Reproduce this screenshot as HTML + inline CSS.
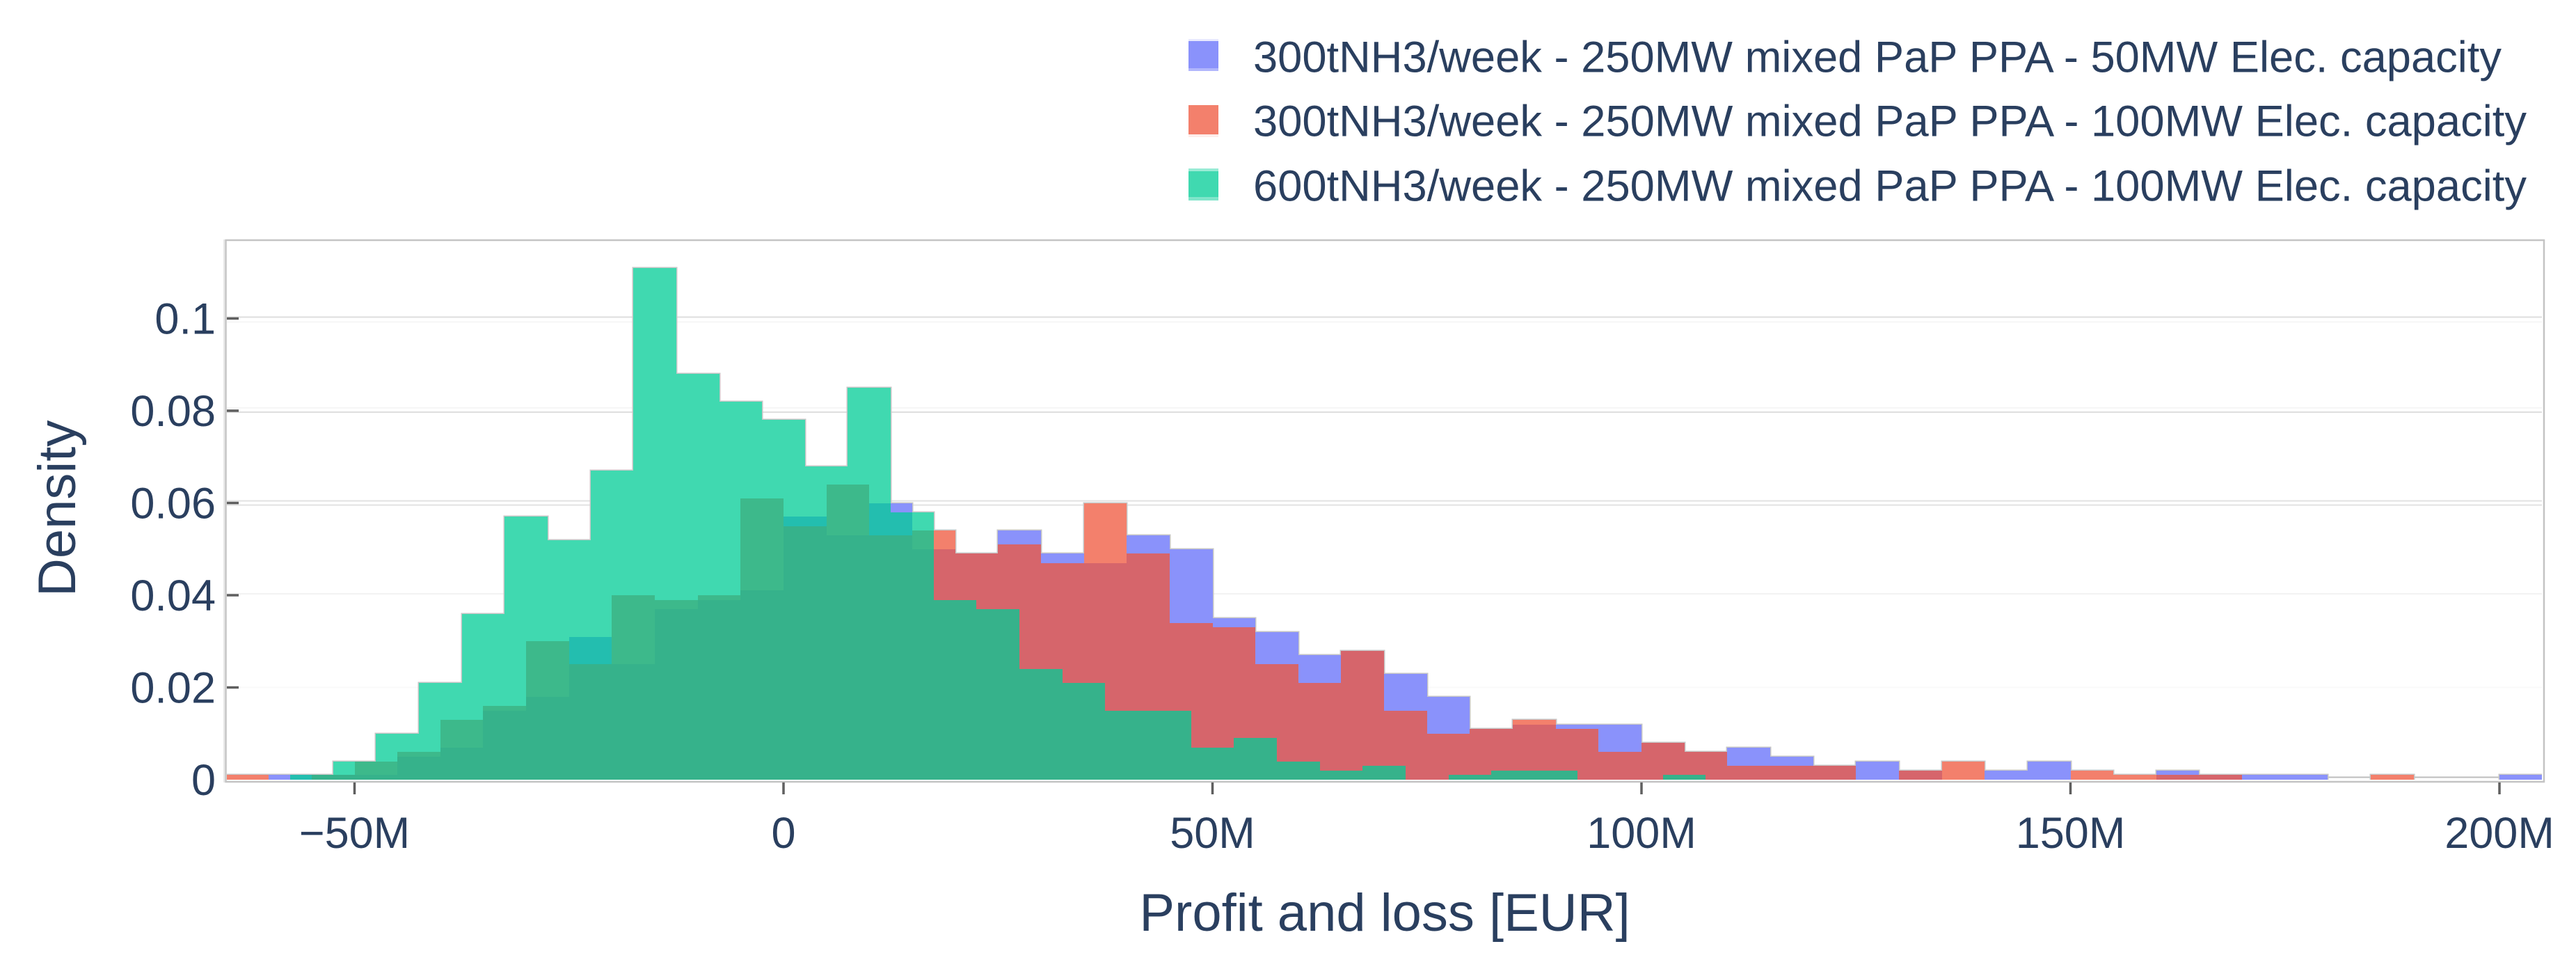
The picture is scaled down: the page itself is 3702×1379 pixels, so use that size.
<!DOCTYPE html>
<html lang="en">
<head>
<meta charset="utf-8">
<title>Profit and loss density histogram</title>
<style>
html,body{margin:0;padding:0;background:#fff;width:3702px;height:1379px;overflow:hidden}
svg{display:block}
text{font-family:"Liberation Sans",Arial,sans-serif;fill:#2a3f5f}
</style>
</head>
<body>
<svg id="chart" xmlns="http://www.w3.org/2000/svg" width="3702" height="1379" viewBox="0 0 3702 1379">
  <defs>
    <clipPath id="plot-clip"><rect x="326" y="346" width="3327" height="776"/></clipPath>
    <clipPath id="outline-clip"><rect x="326" y="346" width="3327" height="774"/></clipPath>
  </defs>
  <rect x="324.5" y="345" width="3331.5" height="778" fill="#fff" stroke="#c4c4c4" stroke-width="2.5"/>
  <line x1="322" x2="322" y1="344" y2="1124" stroke="#e8e8e8" stroke-width="2"/>
  <g id="grid"></g>
  <line x1="326" x2="3653" y1="1116.5" y2="1116.5" stroke="#bdbdbd" stroke-width="2"/>
  <g id="bars" clip-path="url(#plot-clip)" shape-rendering="crispEdges">
    <path id="bar-outline" clip-path="url(#outline-clip)" fill="none" stroke="#c6c6c6" stroke-width="3"/>
    <path id="bar-underlay" fill="#fff" stroke="none"/>
  </g>
  <g id="axis-ticks"></g>
  <text transform="translate(108,857) rotate(-90)" font-size="76">Density</text>
  <text x="1990" y="1337" font-size="76" text-anchor="middle">Profit and loss [EUR]</text>
  <g>
    <g fill="#636efa" shape-rendering="crispEdges">
      <rect x="1708" y="56" width="43" height="3" opacity="0.15"/>
      <rect x="1708" y="59" width="43" height="39" opacity="0.75"/>
      <rect x="1708" y="98" width="43" height="4" opacity="0.5"/>
    </g>
    <text x="1801" y="103.5" font-size="63" textLength="1794" lengthAdjust="spacingAndGlyphs">300tNH3/week - 250MW mixed PaP PPA - 50MW Elec. capacity</text>
    <g fill="#ef553b" shape-rendering="crispEdges">
      <rect x="1708" y="151" width="43" height="42" opacity="0.75"/>
      <rect x="1708" y="193" width="43" height="4" opacity="0.1"/>
    </g>
    <text x="1801" y="195.5" font-size="63" textLength="1830" lengthAdjust="spacingAndGlyphs">300tNH3/week - 250MW mixed PaP PPA - 100MW Elec. capacity</text>
    <g fill="#00cc96" shape-rendering="crispEdges">
      <rect x="1708" y="242" width="43" height="4" opacity="0.4"/>
      <rect x="1708" y="246" width="43" height="37" opacity="0.75"/>
      <rect x="1708" y="283" width="43" height="5" opacity="0.5"/>
    </g>
    <text x="1801" y="288.5" font-size="63" textLength="1830" lengthAdjust="spacingAndGlyphs">600tNH3/week - 250MW mixed PaP PPA - 100MW Elec. capacity</text>
  </g>
</svg>
<script>
const xTicks = [-50, 0, 50, 100, 150, 200];
const xTickLabels = ['\u221250M', '0', '50M', '100M', '150M', '200M'];
const yTicks = [0, 0.02, 0.04, 0.06, 0.08, 0.1];
const yTickLabels = ['0', '0.02', '0.04', '0.06', '0.08', '0.1'];
const binWidth = 5;
const blueStart = -60;
const blueValues = [0.001,0.001,0.001,0.005,0.007,0.015,0.018,0.031,0.025,0.037,0.039,0.041,0.057,0.053,0.060,0.050,0.049,0.054,0.049,0.047,0.053,0.050,0.035,0.032,0.027,0.028,0.023,0.018,0.011,0.012,0.012,0.012,0.008,0.006,0.007,0.005,0.003,0.004,0.002,0,0.002,0.004,0,0,0.002,0.001,0.001,0.001,0,0,0,0,0.001];
const redStart = -65;
const redValues = [0.001,0,0.001,0.004,0.006,0.013,0.016,0.030,0.025,0.040,0.039,0.040,0.061,0.055,0.064,0.053,0.054,0.049,0.051,0.047,0.060,0.049,0.034,0.033,0.025,0.021,0.028,0.015,0.010,0.011,0.013,0.011,0.006,0.008,0.006,0.003,0.003,0.003,0,0.002,0.004,0,0,0.002,0.001,0.001,0.001,0,0,0,0.001];
const greenStart = -57.5;
const greenValues = [0.001,0.004,0.010,0.021,0.036,0.057,0.052,0.067,0.111,0.088,0.082,0.078,0.068,0.085,0.058,0.039,0.037,0.024,0.021,0.015,0.015,0.007,0.009,0.004,0.002,0.003,0,0.001,0.002,0.002,0,0,0.001];

const NS = 'http://www.w3.org/2000/svg';
function xScale(v) { return 1126 + 12.33 * v; }
function yScale(v) { return 1120 - 6625 * v; }

const barsGroup = document.getElementById('bars');
let envelope = '';
function drawSeries(start, values, color, seriesName) {
  values.forEach(function (value, i) {
    if (value <= 0) return;
    const left = Math.round(xScale(start + i * binWidth));
    const right = Math.round(xScale(start + (i + 1) * binWidth));
    const top = Math.round(yScale(value));
    const bottom = Math.round(yScale(0));
    envelope += 'M' + left + ' ' + bottom + 'V' + top + 'H' + right + 'V' + bottom + 'Z';
    const rect = document.createElementNS(NS, 'rect');
    rect.setAttribute('x', left);
    rect.setAttribute('y', top);
    rect.setAttribute('width', right - left);
    rect.setAttribute('height', bottom - top);
    rect.setAttribute('fill', color);
    rect.setAttribute('opacity', '0.75');
    
    
    barsGroup.appendChild(rect);
  });
}
drawSeries(blueStart, blueValues, '#636efa', 'blue-series');
drawSeries(redStart, redValues, '#ef553b', 'red-series');
drawSeries(greenStart, greenValues, '#00cc96', 'green-series');
document.getElementById('bar-outline').setAttribute('d', envelope);
document.getElementById('bar-underlay').setAttribute('d', envelope);

const gridGroup = document.getElementById('grid');
function addGridLine(tick, shift, color) {
  const y = yScale(tick) + shift;
  const line = document.createElementNS(NS, 'line');
  line.setAttribute('x1', 326);
  line.setAttribute('x2', 3653);
  line.setAttribute('y1', y);
  line.setAttribute('y2', y);
  line.setAttribute('stroke', color);
  line.setAttribute('stroke-width', '2');
  
  
  gridGroup.appendChild(line);
}
yTicks.forEach(function (tick) {
  if (tick === 0) return;
  if (tick >= 0.09) { addGridLine(tick, -2, '#dedede'); addGridLine(tick, 5, '#f6f6f6'); }
  else if (tick >= 0.07) { addGridLine(tick, -4, '#f6f6f6'); addGridLine(tick, 2, '#dedede'); }
  else if (tick >= 0.05) { addGridLine(tick, -3, '#e2e2e2'); addGridLine(tick, 3, '#e2e2e2'); }
  else if (tick >= 0.03) { addGridLine(tick, -2, '#f3f3f3'); }
  else { addGridLine(tick, 0, '#fafafa'); }
});

const tickGroup = document.getElementById('axis-ticks');
xTicks.forEach(function (tick, i) {
  const x = xScale(tick);
  const line = document.createElementNS(NS, 'line');
  line.setAttribute('x1', x);
  line.setAttribute('x2', x);
  line.setAttribute('y1', 1124);
  line.setAttribute('y2', 1141);
  line.setAttribute('stroke', '#5f5f5f');
  line.setAttribute('stroke-width', '3.5');
  
  
  tickGroup.appendChild(line);
  const label = document.createElementNS(NS, 'text');
  label.setAttribute('x', x);
  label.setAttribute('y', 1218);
  label.setAttribute('font-size', '63');
  label.setAttribute('text-anchor', 'middle');
  
  
  label.textContent = xTickLabels[i];
  tickGroup.appendChild(label);
});
yTicks.forEach(function (tick, i) {
  const y = yScale(tick);
  if (tick !== 0) {
    const line = document.createElementNS(NS, 'line');
    line.setAttribute('x1', 326);
    line.setAttribute('x2', 343);
    line.setAttribute('y1', y);
    line.setAttribute('y2', y);
    line.setAttribute('stroke', '#5f5f5f');
    line.setAttribute('stroke-width', '3.5');
    
    
    tickGroup.appendChild(line);
  }
  const label = document.createElementNS(NS, 'text');
  label.setAttribute('x', 310);
  label.setAttribute('y', y + 22);
  label.setAttribute('font-size', '63');
  label.setAttribute('text-anchor', 'end');
  
  
  label.textContent = yTickLabels[i];
  tickGroup.appendChild(label);
});
</script>
</body>
</html>
